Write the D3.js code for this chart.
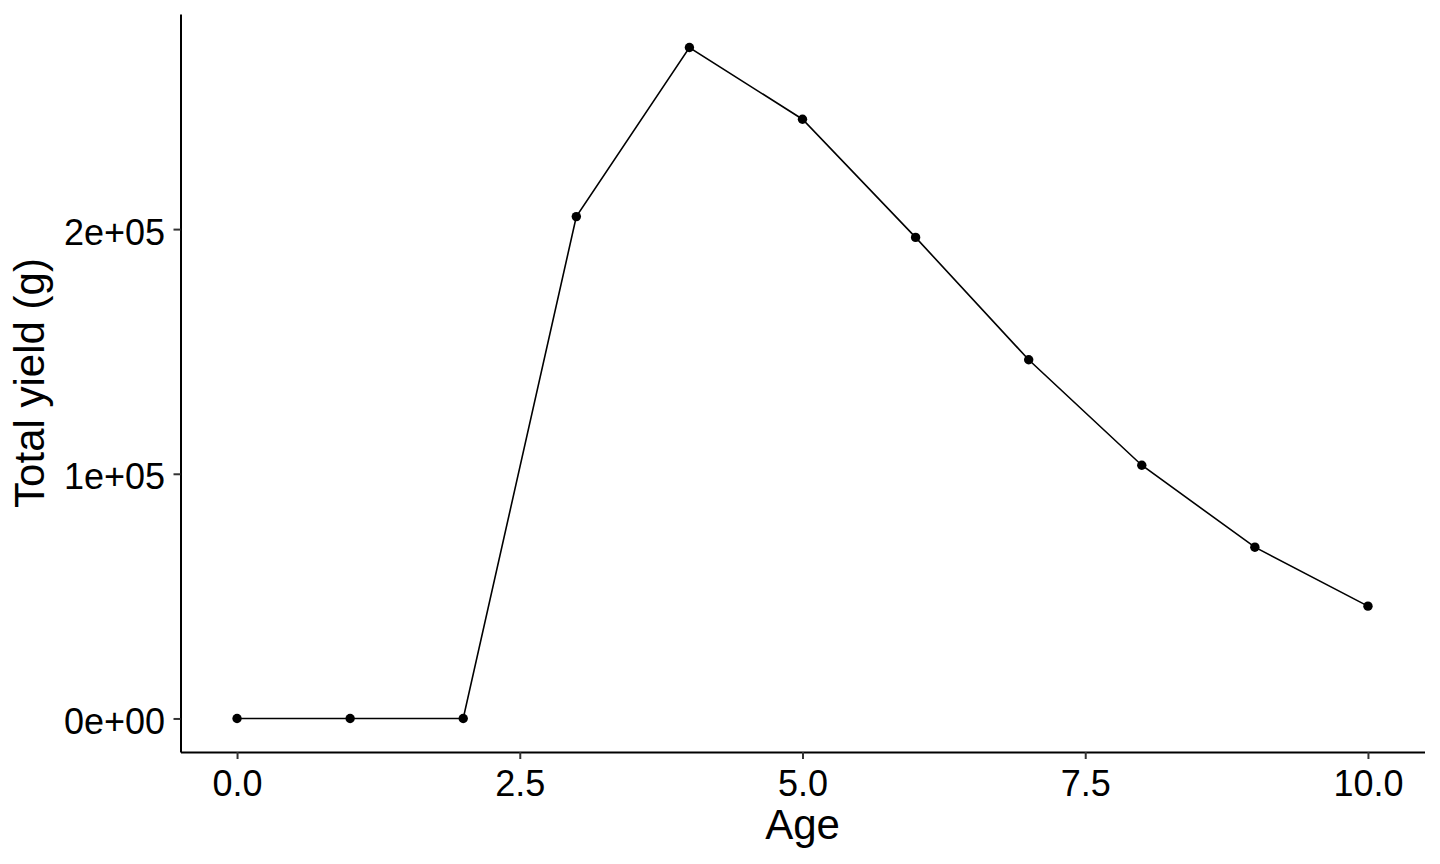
<!DOCTYPE html>
<meta charset="utf-8">
<style>
body { margin: 0; background: #fff; }
text { font-family: "Liberation Sans", Arial, sans-serif; fill: #000; }
</style>
<svg width="1440" height="864"></svg>
<script src="https://cdn.jsdelivr.net/npm/d3@7"></script>
<script>

// data
var ages = [0, 1, 2, 3, 4, 5, 6, 7, 8, 9, 10];
var yields = [0, 0, 0, 205100, 274200, 244900, 196600, 146600, 103500, 70000, 45900];
var xTicks = [0, 2.5, 5, 7.5, 10];
var yTicks = [0, 100000, 200000];

var svg = d3.select("svg");

// ggplot style 5% expansion
var xPad = (d3.max(ages) - d3.min(ages)) * 0.05,
    yPad = (d3.max(yields) - d3.min(yields)) * 0.05;

var x = d3.scaleLinear()
    .domain([d3.min(ages) - xPad, d3.max(ages) + xPad])
    .range([180.5, 1424.5]);

var y = d3.scaleLinear()
    .domain([d3.min(yields) - yPad, d3.max(yields) + yPad])
    .range([752, 14]);

function sci(d) {
  if (d === 0) return "0e+00";
  var e = Math.floor(Math.log10(Math.abs(d)));
  var m = Math.round(d / Math.pow(10, e));
  return m + "e" + (e < 0 ? "-" : "+") + (Math.abs(e) < 10 ? "0" : "") + Math.abs(e);
}

var xAxis = svg.append("g")
    .attr("transform", "translate(0," + y.range()[0] + ")")
    .call(d3.axisBottom(x).tickValues(xTicks).tickFormat(d3.format(".1f"))
      .tickSize(7).tickSizeOuter(0).tickPadding(11));

var yAxis = svg.append("g")
    .attr("transform", "translate(" + x.range()[0] + ",0)")
    .call(d3.axisLeft(y).tickValues(yTicks).tickFormat(sci)
      .tickSize(7).tickSizeOuter(0).tickPadding(8.5));

svg.selectAll(".domain").attr("stroke", "#000").attr("stroke-width", 2);
svg.selectAll(".tick line").attr("stroke", "#333").attr("stroke-width", 2);
svg.selectAll(".tick text")
    .attr("fill", "#000")
    .style("font-size", "36px")
    .style("font-family", "'Liberation Sans', Arial, sans-serif");
yAxis.selectAll(".tick text").attr("dy", "0.42em");

var line = d3.line()
    .x(function(d, i) { return x(ages[i]); })
    .y(function(d) { return y(d); });

svg.append("path")
    .datum(yields)
    .attr("fill", "none")
    .attr("stroke", "#000")
    .attr("stroke-width", 1.6)
    .attr("d", line);

svg.append("g")
  .selectAll("circle")
  .data(yields)
  .enter().append("circle")
    .attr("cx", function(d, i) { return x(ages[i]); })
    .attr("cy", function(d) { return y(d); })
    .attr("r", 4.7)
    .attr("fill", "#000");

svg.append("text")
    .attr("x", (x.range()[0] + x.range()[1]) / 2)
    .attr("y", 839)
    .attr("text-anchor", "middle")
    .style("font-size", "42px")
    .text("Age");

svg.append("text")
    .attr("transform", "translate(44," + (y.range()[0] + y.range()[1]) / 2 + ") rotate(-90)")
    .attr("text-anchor", "middle")
    .style("font-size", "42px")
    .text("Total yield (g)");

</script>
